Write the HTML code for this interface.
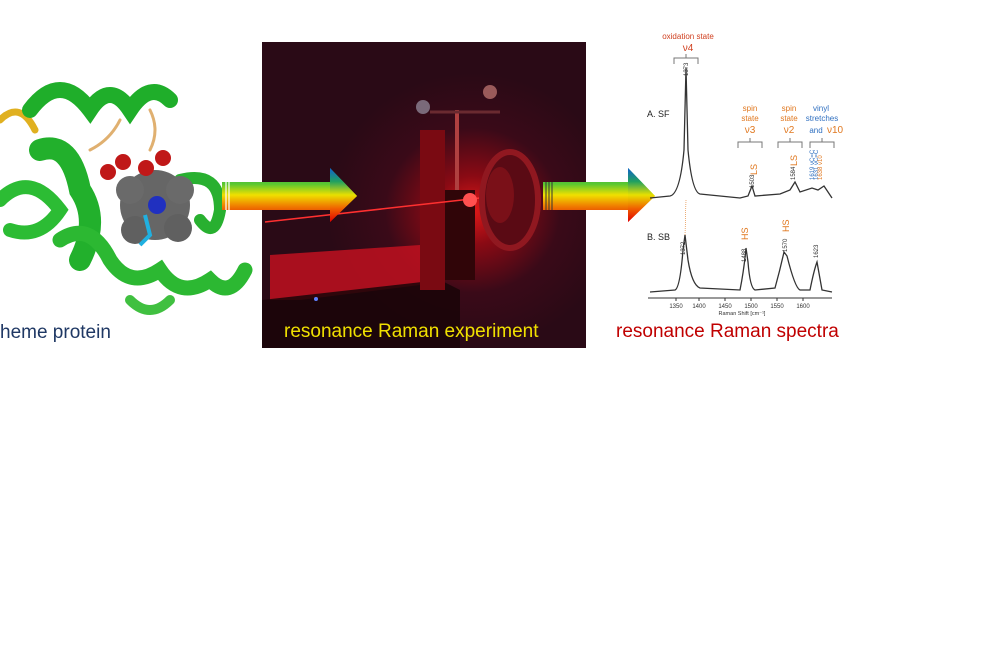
<!DOCTYPE html>
<html><head><meta charset="utf-8"><style>
body{margin:0;background:#fff;width:1000px;height:662px;overflow:hidden;font-family:"Liberation Sans",sans-serif}
</style></head><body>
<svg width="1000" height="662" viewBox="0 0 1000 662" xmlns="http://www.w3.org/2000/svg" font-family="Liberation Sans, sans-serif">
<defs>
<linearGradient id="rb" x1="0" y1="0" x2="0" y2="1">
<stop offset="0" stop-color="#1a9a5a"/><stop offset="0.3" stop-color="#5cc830"/><stop offset="0.5" stop-color="#f0e000"/><stop offset="0.7" stop-color="#f08000"/><stop offset="1" stop-color="#e00000"/></linearGradient>
<linearGradient id="hd" x1="0" y1="0" x2="0" y2="1">
<stop offset="0" stop-color="#1060d0"/><stop offset="0.25" stop-color="#20a060"/><stop offset="0.5" stop-color="#e8e000"/><stop offset="0.75" stop-color="#f06000"/><stop offset="1" stop-color="#e00000"/></linearGradient>
<radialGradient id="glow" cx="0.65" cy="0.55" r="0.45"><stop offset="0" stop-color="#e01818"/><stop offset="0.25" stop-color="#8a0a14"/><stop offset="0.6" stop-color="#3a0a18"/><stop offset="1" stop-color="#2a0a16"/></radialGradient>
</defs>
<!-- protein -->
<g fill="none" stroke-linecap="round">
<path d="M0 120 Q20 100 35 130" stroke="#e0b020" stroke-width="7"/>
<path d="M30 110 Q60 70 90 110 Q110 80 130 110 Q150 80 170 100" stroke="#1fae2a" stroke-width="16"/>
<path d="M40 150 Q70 140 80 190 Q100 220 80 260" stroke="#22b02c" stroke-width="22"/>
<path d="M0 200 Q30 170 60 210 Q40 240 10 230" stroke="#2cbc34" stroke-width="14"/>
<path d="M60 240 Q90 220 110 260 Q130 290 160 270 Q180 300 210 280 Q230 300 245 270" stroke="#2cb832" stroke-width="15"/>
<path d="M180 180 Q220 170 220 210 Q215 240 200 220" stroke="#28b030" stroke-width="12"/>
<path d="M130 300 Q150 320 170 300" stroke="#40c040" stroke-width="10"/>
<path d="M90 150 Q110 140 120 120 M150 110 Q160 130 150 150" stroke="#e0b070" stroke-width="3"/>
</g>
<circle cx="155" cy="205" r="35" fill="#666"/>
<circle cx="130" cy="190" r="14" fill="#6a6a6a"/><circle cx="180" cy="190" r="14" fill="#6a6a6a"/>
<circle cx="135" cy="230" r="14" fill="#606060"/><circle cx="178" cy="228" r="14" fill="#606060"/>
<circle cx="157" cy="205" r="9" fill="#2030c0"/>
<path d="M145 215 L150 235 L140 245" stroke="#20b0e0" stroke-width="4" fill="none"/>
<circle cx="108" cy="172" r="8" fill="#c01818"/><circle cx="123" cy="162" r="8" fill="#c01818"/>
<circle cx="146" cy="168" r="8" fill="#c01818"/><circle cx="163" cy="158" r="8" fill="#c01818"/>
<text x="0" y="338" font-size="19" fill="#1f3864">heme protein</text>
<!-- photo -->
<rect x="262" y="42" width="324" height="306" fill="url(#glow)"/>
<path d="M270 255 L420 245 L440 270 L420 285 L300 300 L270 300 Z" fill="#c01020" opacity="0.85"/>
<path d="M262 300 L440 280 L460 290 L460 348 L262 348 Z" fill="#1a0508" opacity="0.85"/>
<rect x="420" y="130" width="25" height="160" fill="#7a0a12"/>
<rect x="455" y="110" width="4" height="150" fill="#b04040"/>
<rect x="445" y="190" width="30" height="90" fill="#300508"/>
<line x1="265" y1="222" x2="480" y2="198" stroke="#ff3030" stroke-width="1.5"/>
<circle cx="470" cy="200" r="7" fill="#ff5050"/>
<ellipse cx="510" cy="200" rx="28" ry="48" fill="#5a0a14" stroke="#901820" stroke-width="6"/>
<ellipse cx="500" cy="195" rx="14" ry="28" fill="#7a1018"/>
<circle cx="423" cy="107" r="7" fill="#7a6a7a"/><circle cx="490" cy="92" r="7" fill="#9a5a5a"/>
<line x1="430" y1="112" x2="500" y2="112" stroke="#6a2a30" stroke-width="3"/>
<circle cx="316" cy="299" r="2" fill="#6080ff"/>
<text x="284" y="337" font-size="19" fill="#f0e000">resonance Raman experiment</text>
<!-- arrows -->
<path d="M222 182 H330 V168 L357 196 L330 222 V210 H222 Z" fill="url(#rb)"/>
<path d="M330 168 L357 196 L330 222 Z" fill="url(#hd)"/>
<g stroke="#fff" stroke-width="1.2"><line x1="226" y1="182" x2="226" y2="210"/><line x1="229" y1="182" x2="229" y2="210"/></g>
<path d="M543 182 H628 V168 L655 196 L628 222 V210 H543 Z" fill="url(#rb)"/>
<path d="M628 168 L655 196 L628 222 Z" fill="url(#hd)"/>
<g stroke="#333" stroke-width="1"><line x1="546" y1="182" x2="546" y2="210"/><line x1="549" y1="182" x2="549" y2="210"/><line x1="552" y1="182" x2="552" y2="210"/></g>
<!-- spectrum -->
<g font-size="8" fill="#d04020"><text x="688" y="39" text-anchor="middle">oxidation state</text><text x="688" y="51" text-anchor="middle" font-size="10">ν4</text></g>
<path d="M674 64 V58 H698 V64 M686 58 V54" stroke="#777" fill="none"/>
<text x="688" y="76" font-size="6" fill="#333" transform="rotate(-90 688 76)">1373</text>
<text x="647" y="117" font-size="9" fill="#222">A. SF</text>
<text x="647" y="240" font-size="9" fill="#222">B. SB</text>
<g font-size="8" fill="#e07820" text-anchor="middle"><text x="750" y="111">spin</text><text x="750" y="121">state</text><text x="750" y="133" font-size="10">ν3</text>
<text x="789" y="111">spin</text><text x="789" y="121">state</text><text x="789" y="133" font-size="10">ν2</text></g>
<g font-size="8" fill="#3070c0" text-anchor="middle"><text x="821" y="111">vinyl</text><text x="822" y="121">stretches</text><text x="816" y="133">and</text></g>
<text x="827" y="133" font-size="10" fill="#e07820">ν10</text>
<path d="M738 148 V142 H762 V148 M750 142 V138 M778 148 V142 H802 V148 M790 142 V138 M810 148 V142 H834 V148 M822 142 V138" stroke="#777" fill="none"/>
<path d="M650 198 L670 196 Q680 194 684 150 L686 68 L688 150 Q692 192 700 194 L740 198 L748 196 L752 186 L755 196 L780 194 L790 190 L795 182 L800 192 L812 188 L818 190 L824 186 L832 198" stroke="#333" stroke-width="1.3" fill="none"/>
<path d="M650 292 L675 290 Q680 288 683 250 L685 235 L688 260 Q692 285 700 288 L740 290 Q744 270 746 248 L748 262 Q750 288 755 290 L775 288 Q780 270 784 252 L787 256 Q795 288 800 290 L810 290 Q814 270 817 262 L822 290 L832 292" stroke="#333" stroke-width="1.3" fill="none"/>
<line x1="686" y1="200" x2="685" y2="235" stroke="#e07820" stroke-width="0.6" stroke-dasharray="1,1"/>
<g font-size="9" fill="#e07820"><text x="757" y="175" transform="rotate(-90 757 175)">LS</text><text x="797" y="166" transform="rotate(-90 797 166)">LS</text>
<text x="748" y="240" transform="rotate(-90 748 240)">HS</text><text x="789" y="232" transform="rotate(-90 789 232)">HS</text></g>
<g font-size="6" fill="#333"><text x="754" y="188" transform="rotate(-90 754 188)">1503</text><text x="795" y="180" transform="rotate(-90 795 180)">1584</text>
<text x="746" y="262" transform="rotate(-90 746 262)">1488</text><text x="787" y="252" transform="rotate(-90 787 252)">1570</text>
<text x="685" y="255" transform="rotate(-90 685 255)">1372</text><text x="818" y="258" transform="rotate(-90 818 258)">1623</text></g>
<text x="814" y="180" font-size="6" fill="#3070c0" transform="rotate(-90 814 180)">1619 νC=C</text>
<text x="818" y="180" font-size="6" fill="#3070c0" transform="rotate(-90 818 180)">1631 νC=C</text>
<text x="822" y="180" font-size="6" fill="#e07820" transform="rotate(-90 822 180)">1638 ν10</text>
<line x1="648" y1="298" x2="832" y2="298" stroke="#333"/>
<g stroke="#333"><line x1="676" y1="298" x2="676" y2="301"/><line x1="699" y1="298" x2="699" y2="301"/><line x1="725" y1="298" x2="725" y2="301"/><line x1="751" y1="298" x2="751" y2="301"/><line x1="777" y1="298" x2="777" y2="301"/><line x1="803" y1="298" x2="803" y2="301"/></g>
<g font-size="6" fill="#333" text-anchor="middle"><text x="676" y="308">1350</text><text x="699" y="308">1400</text><text x="725" y="308">1450</text><text x="751" y="308">1500</text><text x="777" y="308">1550</text><text x="803" y="308">1600</text><text x="742" y="315" font-size="5.5">Raman Shift [cm⁻¹]</text></g>
<text x="616" y="337" font-size="19" fill="#c00000">resonance Raman spectra</text>
</svg>
</body></html>
